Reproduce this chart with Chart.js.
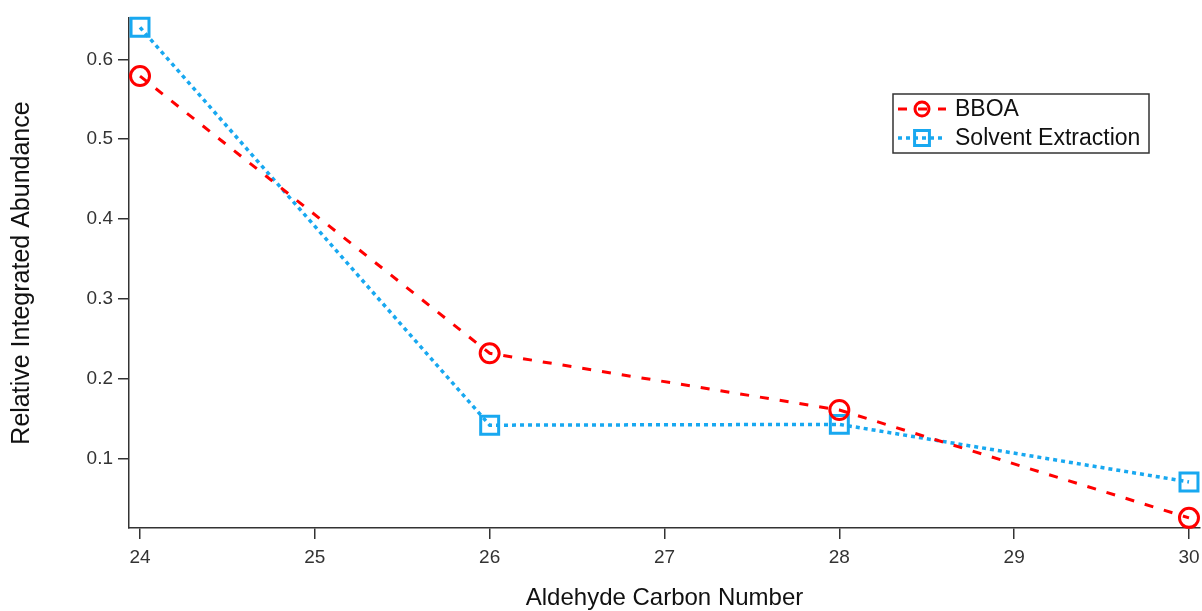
<!DOCTYPE html>
<html>
<head>
<meta charset="utf-8">
<title>Aldehyde abundance</title>
<script src="https://cdn.jsdelivr.net/npm/chart.js@4.4.0/dist/chart.umd.min.js"></script>
<style>
  html, body { margin: 0; padding: 0; background: #fff; }
  #wrap { width: 1202px; height: 611px; }
</style>
</head>
<body>
<div id="wrap"><canvas id="abundanceChart" width="1202" height="611"></canvas></div>
<script>
var carbonNumbers = [24, 26, 28, 30];
var bboa = [0.579, 0.232, 0.161, 0.026];
var solventExtraction = [0.640, 0.142, 0.143, 0.071];
var xTicks = [24, 25, 26, 27, 28, 29, 30];
var yTicks = [0.1, 0.2, 0.3, 0.4, 0.5, 0.6];

var FONT = '"Liberation Sans", Arial, sans-serif';

function toPoints(xs, ys) {
    return xs.map(function (x, i) { return { x: x, y: ys[i] }; });
}

// legend in a bordered box, each entry shows the dataset's line dash and marker
var boxLegend = {
    id: 'boxLegend',
    afterDraw: function (chart, args, opts) {
        var ctx = chart.ctx;
        ctx.save();
        ctx.strokeStyle = '#333';
        ctx.lineWidth = 1.5;
        ctx.strokeRect(opts.x, opts.y, opts.width, opts.height);
        chart.data.datasets.forEach(function (ds, i) {
            var cy = opts.y + 15 + i * 29;
            var x0 = opts.x + 5, x1 = opts.x + 53;
            ctx.save();
            ctx.strokeStyle = ds.borderColor;
            ctx.lineWidth = ds.borderWidth;
            ctx.setLineDash(ds.borderDash);
            ctx.beginPath();
            ctx.moveTo(x0, cy);
            ctx.lineTo(x1, cy);
            ctx.stroke();
            ctx.setLineDash([]);
            ctx.fillStyle = 'rgba(0,0,0,0)';
            ctx.lineWidth = ds.pointBorderWidth;
            Chart.helpers.drawPoint(ctx, {
                pointStyle: ds.pointStyle,
                radius: ds.legendRadius,
                rotation: 0,
                borderWidth: ds.pointBorderWidth
            }, (x0 + x1) / 2, cy);
            ctx.restore();
            ctx.fillStyle = '#111';
            ctx.font = '23px ' + FONT;
            ctx.textBaseline = 'middle';
            ctx.fillText(ds.label, opts.x + 62, cy + 1);
        });
        ctx.restore();
    }
};

var ctx = document.getElementById('abundanceChart').getContext('2d');
var abundanceChart = new Chart(ctx, {
    type: 'line',
    data: {
        datasets: [{
            label: 'BBOA',
            data: toPoints(carbonNumbers, bboa),
            borderColor: '#ff0000',
            borderWidth: 3,
            borderDash: [9, 11],
            pointStyle: 'circle',
            pointRadius: 9.5,
            legendRadius: 7,
            pointBorderWidth: 3,
            pointBorderColor: '#ff0000',
            pointBackgroundColor: 'rgba(0,0,0,0)',
            tension: 0,
            clip: false
        }, {
            label: 'Solvent Extraction',
            data: toPoints(carbonNumbers, solventExtraction),
            borderColor: '#18a8f0',
            borderWidth: 3.5,
            borderDash: [4, 4],
            pointStyle: 'rect',
            pointRadius: 12.7,
            legendRadius: 10.5,
            pointBorderWidth: 3,
            pointBorderColor: '#18a8f0',
            pointBackgroundColor: 'rgba(0,0,0,0)',
            tension: 0,
            clip: false
        }]
    },
    options: {
        responsive: false,
        animation: false,
        events: [],
        layout: { autoPadding: false, padding: { top: 18, right: 2, bottom: 0, left: 0 } },
        plugins: {
            legend: { display: false },
            tooltip: { enabled: false },
            boxLegend: { x: 893, y: 94, width: 256, height: 59 }
        },
        scales: {
            x: {
                type: 'linear',
                min: 23.937,
                max: 30.063,
                afterFit: function (s) {
                    s.height = 83;
                    s.paddingLeft = 0;
                    s.paddingRight = 0;
                },
                afterBuildTicks: function (s) {
                    s.ticks = xTicks.map(function (v) { return { value: v }; });
                },
                grid: { drawOnChartArea: false, color: '#333', lineWidth: 1.5, tickLength: 11 },
                border: { color: '#333', width: 1.5 },
                ticks: {
                    padding: 7,
                    color: '#333',
                    font: { family: FONT, size: 19 },
                    maxRotation: 0,
                    callback: function (v) { return v; }
                },
                title: {
                    display: true,
                    text: 'Aldehyde Carbon Number',
                    color: '#111',
                    font: { family: FONT, size: 24, lineHeight: 1 },
                    padding: { top: 0, bottom: 1 }
                }
            },
            y: {
                min: 0.0133,
                max: 0.6517,
                afterFit: function (s) {
                    s.width = 129;
                    s.paddingTop = 0;
                    s.paddingBottom = 0;
                },
                afterBuildTicks: function (s) {
                    s.ticks = yTicks.map(function (v) { return { value: v }; });
                },
                grid: { drawOnChartArea: false, color: '#333', lineWidth: 1.5, tickLength: 11 },
                border: { color: '#333', width: 1.5 },
                ticks: {
                    padding: 5,
                    color: '#333',
                    font: { family: FONT, size: 19 },
                    callback: function (v) { return v.toFixed(1); }
                },
                title: {
                    display: true,
                    text: 'Relative Integrated Abundance',
                    color: '#111',
                    font: { family: FONT, size: 25, lineHeight: 1 },
                    padding: { top: 10, bottom: 0 }
                }
            }
        }
    },
    plugins: [boxLegend]
});
</script>
</body>
</html>
